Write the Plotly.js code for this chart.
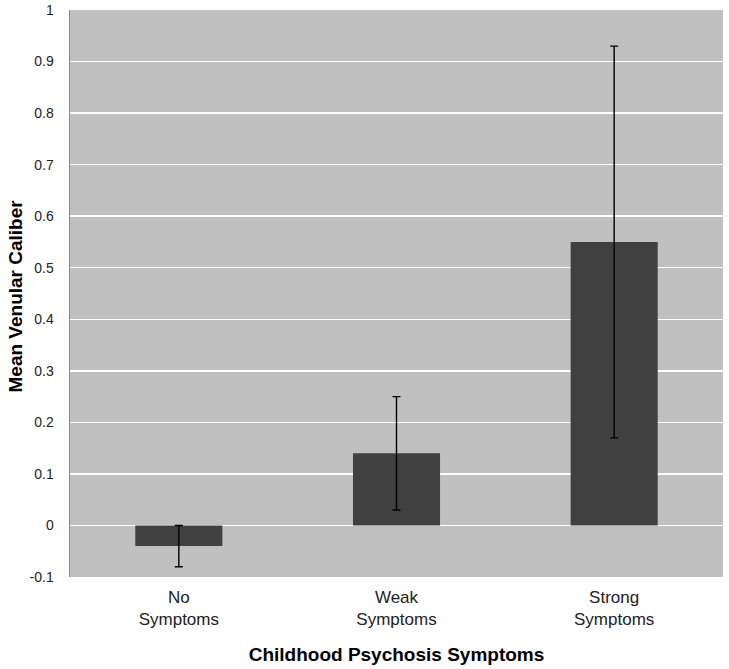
<!DOCTYPE html>
<html>
<head>
<meta charset="utf-8">
<script src="https://cdn.plot.ly/plotly-3.0.1.min.js"></script>
<style>html,body{margin:0;padding:0;background:#fff}#chart{width:729px;height:669px}</style>
</head>
<body>
<div id="chart"></div>
<script>
const categories = ["No<br>Symptoms", "Weak<br>Symptoms", "Strong<br>Symptoms"];
const meanValues = [-0.04, 0.14, 0.55];
const errorValues = [0.04, 0.11, 0.38];
const yTickVals = [-0.1, 0, 0.1, 0.2, 0.3, 0.4, 0.5, 0.6, 0.7, 0.8, 0.9, 1];
const yTickText = ["-0.1", "0", "0.1", "0.2", "0.3", "0.4", "0.5", "0.6", "0.7", "0.8", "0.9", "1"];
const yTitle = "Mean Venular Caliber";
const xTitle = "Childhood Psychosis Symptoms";

const trace = {
  type: 'bar',
  x: categories,
  y: meanValues,
  marker: {color: '#404040', line: {width: 0}},
  error_y: {type: 'data', array: errorValues, visible: true, color: '#000000', thickness: 1.4, width: 4},
  hoverinfo: 'none'
};

const layout = {
  width: 729, height: 669,
  margin: {l: 70, r: 6, t: 10, b: 92},
  paper_bgcolor: '#ffffff',
  plot_bgcolor: '#c0c0c0',
  font: {family: 'Liberation Sans, Arial, sans-serif', size: 14, color: '#222222'},
  bargap: 0.6,
  showlegend: false,
  xaxis: {
    type: 'category',
    showgrid: false,
    zeroline: false,
    showline: false,
    ticks: '',
    ticklabelstandoff: 8,
    tickfont: {size: 17, color: '#222222'},
    title: {text: '<b>' + xTitle + '</b>', font: {size: 19, color: '#000000'}, standoff: 19}
  },
  yaxis: {
    range: [-0.1, 1],
    tickvals: yTickVals,
    ticktext: yTickText,
    showgrid: true,
    gridcolor: '#ffffff',
    gridwidth: 1.5,
    zeroline: true,
    zerolinecolor: '#ffffff',
    zerolinewidth: 1.5,
    showline: true,
    linecolor: '#8a8a8a',
    linewidth: 1.5,
    ticks: '',
    ticklabelstandoff: 12,
    tickfont: {size: 14, color: '#222222'}
  },
  annotations: [{
    text: '<b>' + yTitle + '</b>',
    xref: 'paper', yref: 'paper',
    x: 0, y: 0.5,
    xanchor: 'center', yanchor: 'middle',
    xshift: -55, yshift: -3,
    textangle: -90,
    showarrow: false,
    font: {size: 19, color: '#000000'}
  }]
};

Plotly.newPlot('chart', [trace], layout, {displayModeBar: false, staticPlot: true});
</script>
</body>
</html>
